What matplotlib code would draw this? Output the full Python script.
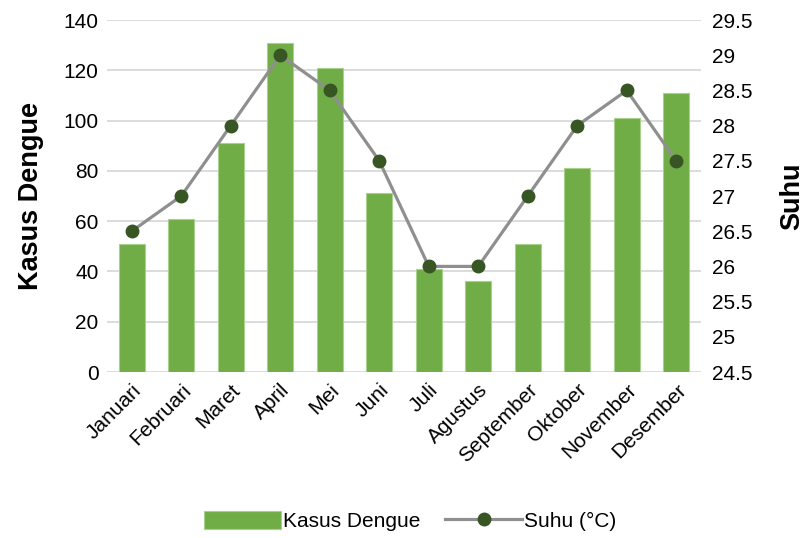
import matplotlib
matplotlib.use("Agg")
import matplotlib.pyplot as plt

plt.rcParams['font.family'] = ['Liberation Sans', 'DejaVu Sans']

bulan = ["Januari", "Februari", "Maret", "April", "Mei", "Juni", "Juli",
         "Agustus", "September", "Oktober", "November", "Desember"]
kasus = [51, 61, 91, 131, 121, 71, 41, 36, 51, 81, 101, 111]
suhu = [26.5, 27, 28, 29, 28.5, 27.5, 26, 26, 27, 28, 28.5, 27.5]

fig = plt.figure(figsize=(8.06, 5.38), dpi=100)
ax = fig.add_axes([107/806, 1 - 372/538, (701-107)/806, (372-20)/538])
x = list(range(len(bulan)))

bars = ax.bar(x, kasus, width=0.53, color="#70ad47", edgecolor="#a9d18e",
              linewidth=0.8, label="Kasus Dengue", zorder=2)
ax.set_ylim(0, 140)
ax.set_yticks(range(0, 141, 20))
ax.set_xlim(-0.5, len(bulan) - 0.5)
ax.grid(axis="y", color="#d9d9d9", linewidth=1.3, zorder=0)
ax.set_axisbelow(True)
for s in ax.spines.values():
    s.set_visible(False)
ax.tick_params(axis="both", length=0, labelsize=15)
ax.tick_params(axis="y", pad=6)
ax.set_xticks(x)
ax.set_xticklabels(bulan, rotation=45, ha="right", rotation_mode="anchor")
ax.tick_params(axis="x", pad=6)
ax.set_ylabel("Kasus Dengue", fontsize=19.5, fontweight="bold", labelpad=14)

ax2 = ax.twinx()
ln, = ax2.plot(x, suhu, color="#8f8f8f", linewidth=2.3, marker="o",
               markersize=9, markerfacecolor="#375623",
               markeredgecolor="#375623", label="Suhu (°C)", zorder=3)
ax2.set_ylim(24.5, 29.5)
ax2.set_yticks([24.5 + 0.5 * i for i in range(11)])
ax2.set_yticklabels(["24.5", "25", "25.5", "26", "26.5", "27", "27.5",
                     "28", "28.5", "29", "29.5"])
for s in ax2.spines.values():
    s.set_visible(False)
ax2.tick_params(axis="y", length=0, labelsize=15, pad=8)
ax2.set_ylabel("Suhu", fontsize=19.5, fontweight="bold", labelpad=19)

fig.legend([bars, ln], ["Kasus Dengue", "Suhu (°C)"], loc="center",
           bbox_to_anchor=(410/806, 1 - 521/538), ncol=2, frameon=False,
           fontsize=15, handlelength=3.7, handleheight=1.0,
           handletextpad=0.1, columnspacing=1.2)

fig.savefig("out.png", dpi=100)
